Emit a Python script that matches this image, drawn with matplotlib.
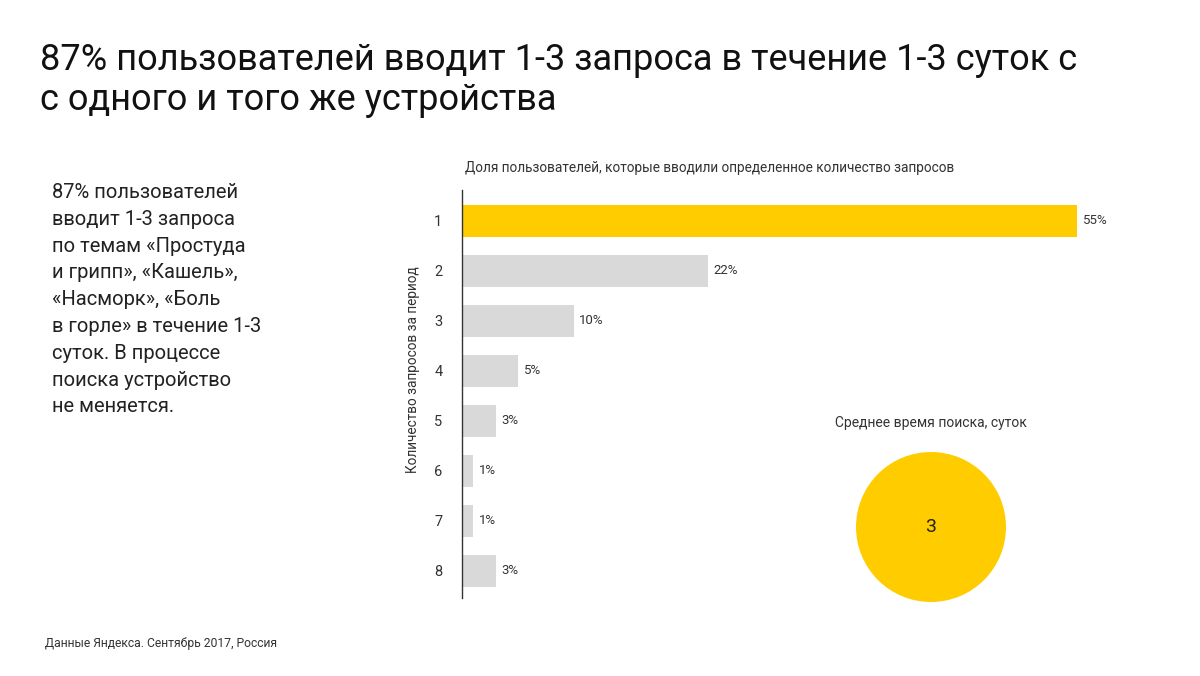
import matplotlib
matplotlib.use("Agg")
import matplotlib.pyplot as plt

# данные
kol_zaprosov = ["1", "2", "3", "4", "5", "6", "7", "8"]
dolya = [55, 22, 10, 5, 3, 1, 1, 3]
srednee_vremya = 3

plt.rcParams['font.family'] = ['Roboto', 'DejaVu Sans']
tekst_cvet = "#222222"
zheltyj = "#FFCC00"
seryj = "#D9D9D9"

fig = plt.figure(figsize=(12, 6.76), dpi=100)

# заголовок
fig.text(40/1200, 1 - 60/676, "87% пользователей вводит 1-3 запроса в течение 1-3 суток с",
         fontsize=26, color="#111111", va="center", ha="left")
fig.text(40/1200, 1 - 100/676, "с одного и того же устройства",
         fontsize=26, color="#111111", va="center", ha="left")

# текст слева
opisanie = ("87% пользователей\nвводит 1-3 запроса\nпо темам «Простуда\nи грипп», «Кашель»,\n"
            "«Насморк», «Боль\nв горле» в течение 1-3\nсуток. В процессе\nпоиска устройство\nне меняется.")
fig.text(52/1200, 1 - 183/676, opisanie, fontsize=14.5, color=tekst_cvet,
         va="top", ha="left", linespacing=1.52)

fig.text(45/1200, 1 - 644/676, "Данные Яндекса. Сентябрь 2017, Россия",
         fontsize=8.7, color="#333333", va="center", ha="left")

# столбцы
ax = fig.add_axes([462/1200, 1 - 598/676, 615/1200 * 60/55, 408/676])
cveta = [zheltyj] + [seryj] * (len(dolya) - 1)
pozicii = range(len(kol_zaprosov))
ax.barh(pozicii, dolya, height=0.64, color=cveta)
ax.set_xlim(0, 60)
ax.set_ylim(7.54, -0.62)
ax.set_yticks(list(pozicii))
ax.set_yticklabels(kol_zaprosov, fontsize=10.5, color="#333333")
ax.tick_params(axis="y", length=0, pad=14)
ax.set_xticks([])
for s in ["top", "right", "bottom"]:
    ax.spines[s].set_visible(False)
ax.spines["left"].set_color("#333333")
ax.spines["left"].set_linewidth(1)
for i, v in enumerate(dolya):
    ax.text(v + 0.5, i, f"{v}%", va="center", ha="left", fontsize=9.5, color="#333333")

fig.text(465/1200, 1 - 168/676, "Доля пользователей, которые вводили определенное количество запросов",
         fontsize=9.8, color="#333333", va="center", ha="left")
fig.text(413/1200, 1 - 370/676, "Количество запросов за период", rotation=90,
         fontsize=9.8, color="#333333", va="center", ha="center")

# круг со средним временем
fig.text(931/1200, 1 - 423/676, "Среднее время поиска, суток",
         fontsize=10, color="#333333", va="center", ha="center")
ax2 = fig.add_axes([(931 - 75)/1200, 1 - (527 + 75)/676, 150/1200, 150/676])
ax2.pie([srednee_vremya], colors=[zheltyj], radius=1)
ax2.set_xlim(-1, 1)
ax2.set_ylim(-1, 1)
ax2.text(0, 0, str(srednee_vremya), ha="center", va="center", fontsize=14, color="#222222")

fig.savefig("out.png", dpi=100)
